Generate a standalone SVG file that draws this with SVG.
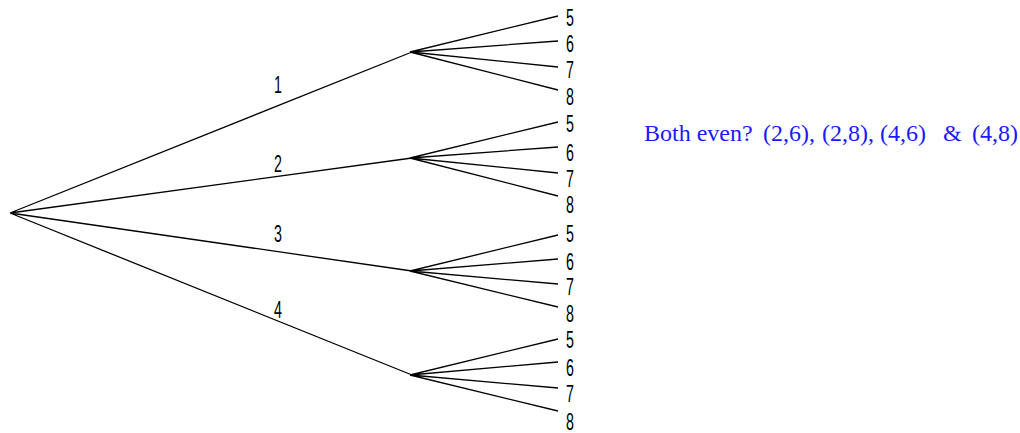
<svg xmlns="http://www.w3.org/2000/svg" width="1020" height="433" viewBox="0 0 1020 433">
<style>
.e{stroke:#000;stroke-width:1.3;fill:none}
.d{font-family:"Liberation Sans",Arial,sans-serif;font-size:23px;fill:#000}
.b{font-family:"Liberation Serif","Times New Roman",serif;font-size:24px;fill:#1a1aff}
</style>
<rect width="1020" height="433" fill="#fff"/>
<g id="connectors">
<path class="e" d="M10,213L412,52M10,213L412,158M10,213L412,271M10,213L412,375"/>
<path class="e" d="M410,52L558,16M410,52L558,41M410,52L558,67M410,52L558,90"/>
<path class="e" d="M410,158L558,122M410,158L558,147M410,158L558,173M410,158L558,196"/>
<path class="e" d="M410,271L558,235M410,271L558,259M410,271L558,284M410,271L558,307"/>
<path class="e" d="M410,375L558,339M410,375L558,362M410,375L558,388M410,375L558,411"/>
</g>
<g id="branch-labels">
<text class="d" transform="translate(274,93) scale(0.62,1)">1</text>
<text class="d" transform="translate(274,172) scale(0.62,1)">2</text>
<text class="d" transform="translate(274,242) scale(0.62,1)">3</text>
<text class="d" transform="translate(274,318) scale(0.62,1)">4</text>
</g>
<g id="group1">
<text class="d" transform="translate(566,26) scale(0.62,1)">5</text>
<text class="d" transform="translate(566,52) scale(0.62,1)">6</text>
<text class="d" transform="translate(566,78) scale(0.62,1)">7</text>
<text class="d" transform="translate(566,105) scale(0.62,1)">8</text>
</g>
<g id="group2">
<text class="d" transform="translate(566,132) scale(0.62,1)">5</text>
<text class="d" transform="translate(566,161) scale(0.62,1)">6</text>
<text class="d" transform="translate(566,187) scale(0.62,1)">7</text>
<text class="d" transform="translate(566,213) scale(0.62,1)">8</text>
</g>
<g id="group3">
<text class="d" transform="translate(566,242) scale(0.62,1)">5</text>
<text class="d" transform="translate(566,270) scale(0.62,1)">6</text>
<text class="d" transform="translate(566,295) scale(0.62,1)">7</text>
<text class="d" transform="translate(566,322) scale(0.62,1)">8</text>
</g>
<g id="group4">
<text class="d" transform="translate(566,348) scale(0.62,1)">5</text>
<text class="d" transform="translate(566,376) scale(0.62,1)">6</text>
<text class="d" transform="translate(566,402) scale(0.62,1)">7</text>
<text class="d" transform="translate(566,430) scale(0.62,1)">8</text>
</g>
<g id="note">
<text class="b" y="141"><tspan x="644">Both even?</tspan><tspan x="763">(2,6),</tspan><tspan x="822">(2,8),</tspan><tspan x="880">(4,6)</tspan><tspan x="943">&amp;</tspan><tspan x="972">(4,8)</tspan></text>
</g>
</svg>
